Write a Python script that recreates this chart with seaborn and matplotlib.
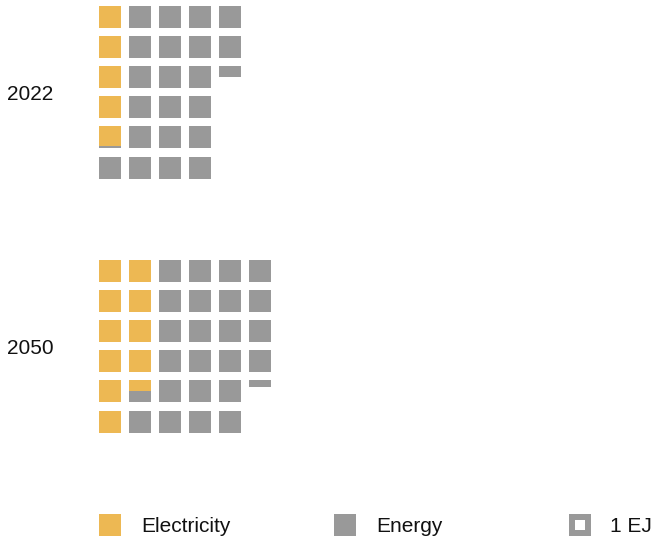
import numpy as np
import pandas as pd
import matplotlib
matplotlib.use("Agg")
import matplotlib.pyplot as plt
from matplotlib.patches import Rectangle
import seaborn as sns

# ---- data (EJ, 1 square = 1 EJ) ----
years = ["2022", "2050"]
electricity = [4.9, 10.5]
energy = [21.6, 23.8]
series = ["Electricity", "Energy"]
colors = {"Electricity": "#EDB853", "Energy": "#999999"}
unit_label = "1 EJ"

# ---- layout (pixels) ----
W, H, DPI = 654, 541, 100
ROWS = 6
CELL = 22
PITCH_X = 30
PITCH_Y = 30.1
GRID_LEFT = 99
GROUP_TOP = [6, 260]
FS = 15
CAP = 0.716 * FS * DPI / 72  # cap height in px

sns.set_theme(style="white")
plt.rcParams["font.family"] = ["Liberation Sans", "DejaVu Sans"]

fig = plt.figure(figsize=(W / DPI, H / DPI), dpi=DPI)
ax = fig.add_axes([0, 0, 1, 1])
ax.set_xlim(0, W)
ax.set_ylim(H, 0)
ax.axis("off")

# build segments for waffle cells (column-major, top-to-bottom fill)
rows = []
for gi, yr in enumerate(years):
    vals = {"Electricity": electricity[gi], "Energy": energy[gi]}
    start = 0.0
    for s in series:
        a, b = start, start + vals[s]
        i = int(np.floor(a))
        while i < b:
            lo, hi = max(a, i), min(b, i + 1)
            if hi > lo:
                col, row = divmod(i, ROWS)
                top = GROUP_TOP[gi] + row * PITCH_Y + (lo - i) * CELL
                rows.append(dict(year=yr, series=s,
                                 x=GRID_LEFT + col * PITCH_X,
                                 y=top, h=(hi - lo) * CELL))
            i += 1
        start = b
cells = pd.DataFrame(rows)

for s in series:
    d = cells[cells.series == s]
    ax.bar(d.x, d.h, bottom=d.y, width=CELL, align="edge",
           color=colors[s], linewidth=0)

# year labels
for gi, yr in enumerate(years):
    yc = GROUP_TOP[gi] + ((ROWS - 1) * PITCH_Y + CELL) / 2
    ax.text(7, yc + CAP / 2, yr, fontsize=FS, color="#111111",
            va="baseline", ha="left")

# legend
LEG_TOP = 514
LEG_Y = LEG_TOP + CELL / 2
leg_items = [(99, "Electricity"), (334, "Energy")]
for lx, s in leg_items:
    ax.add_patch(Rectangle((lx, LEG_TOP), CELL, CELL, color=colors[s], lw=0))
    ax.text(lx + 42, LEG_Y + CAP / 2, s, fontsize=FS, color="#111111",
            va="baseline", ha="left")
ICON_X = 569
ax.add_patch(Rectangle((ICON_X, LEG_TOP), CELL, CELL, color=colors["Energy"], lw=0))
ax.add_patch(Rectangle((ICON_X + 6, LEG_TOP + 6), CELL - 12, CELL - 12,
                       color="white", lw=0))
ax.text(610, LEG_Y + CAP / 2, unit_label, fontsize=FS, color="#111111",
        va="baseline", ha="left")

fig.savefig("out.png", dpi=DPI)
